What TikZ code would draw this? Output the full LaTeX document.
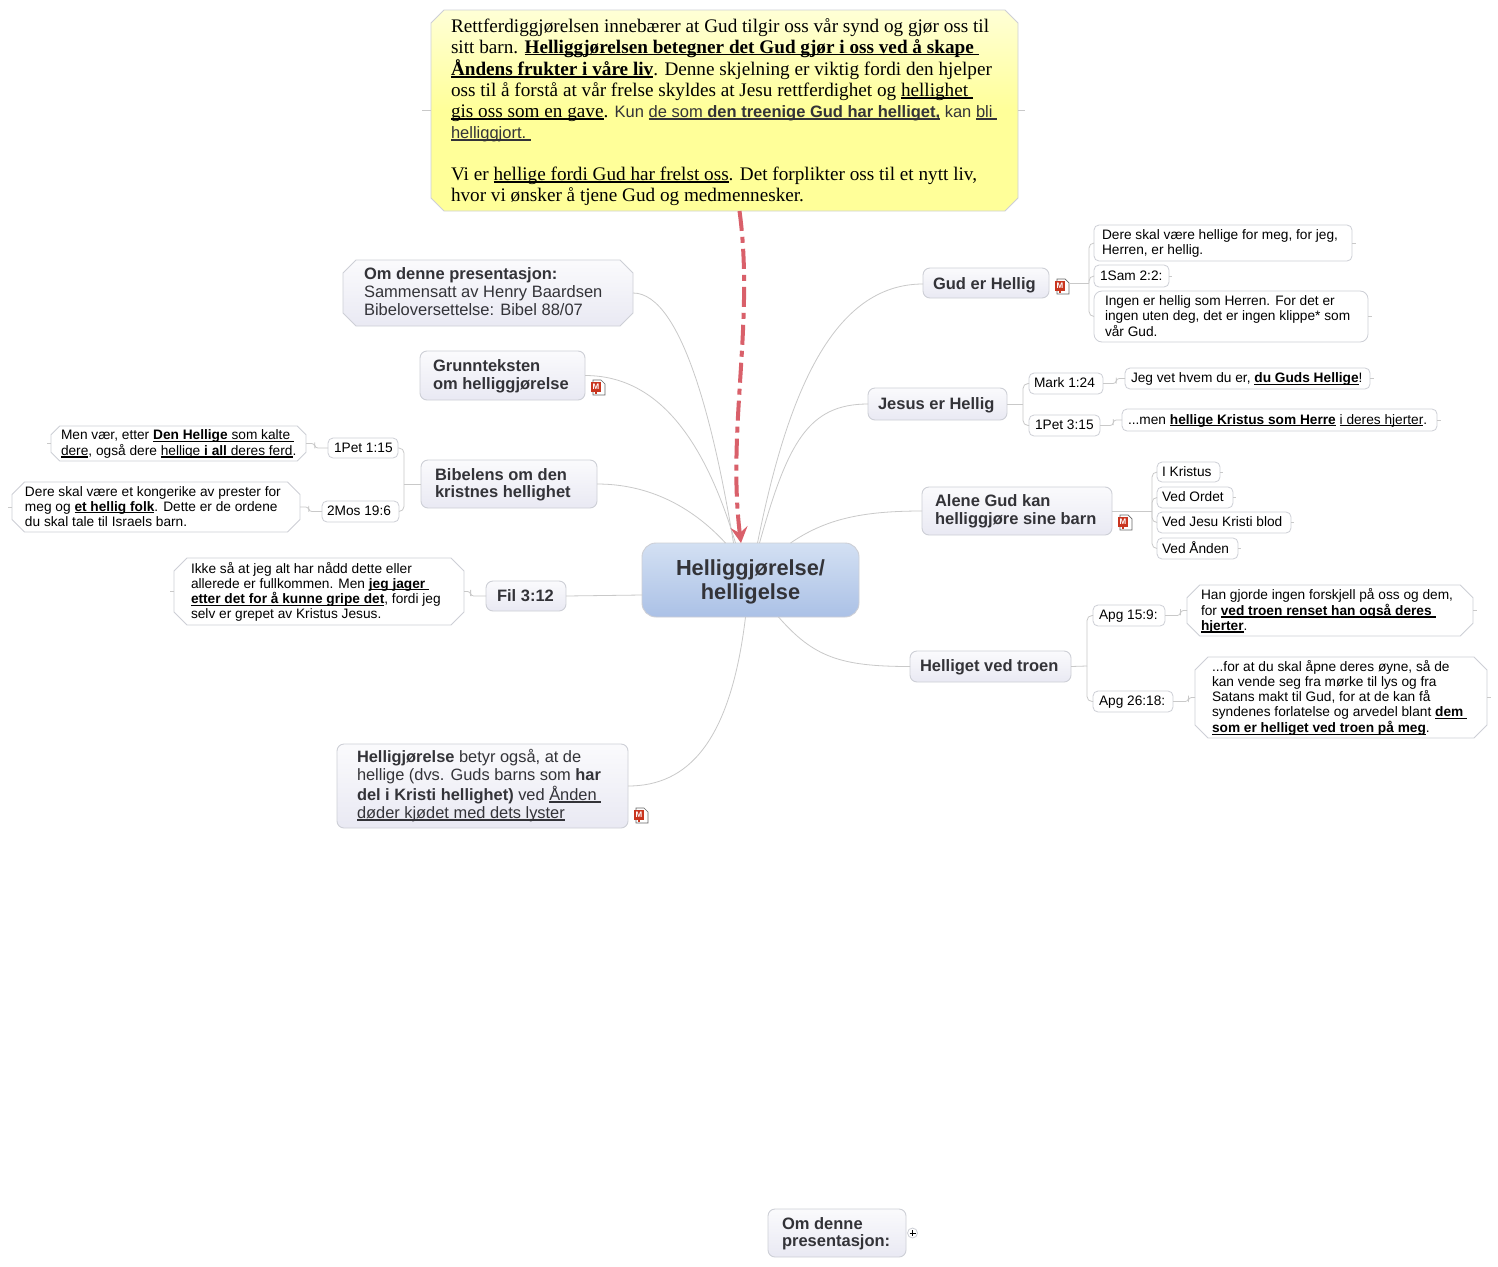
\documentclass[tikz,border=0pt]{standalone}
\usepackage{fontspec}
\setmainfont{Liberation Sans}
\newfontfamily\tms{Liberation Serif}
\usetikzlibrary{arrows.meta,calc}
\definecolor{linegray}{HTML}{C9C9C9}
\definecolor{boxline}{HTML}{CDCFD6}
\definecolor{topictext}{HTML}{333338}
\definecolor{redarrow}{HTML}{D9606A}
\definecolor{iconred}{HTML}{C9351F}
\newcommand{\ul}[1]{\setbox0\hbox{#1}\rlap{\rule[-2.2pt]{\wd0}{1.3pt}}\box0\relax}
\def\mytextpad{2.5pt}
\tikzset{
  textpad/.code={\def\mytextpad{#1}},
  base/.style={inner sep=0pt,outer sep=0pt},
  topic/.style={base,draw=boxline,line width=.9pt,rounded corners=7pt,top color=white!80!topicfill,bottom color=topicfill,font=\fontsize{16.5}{17.5}\selectfont\bfseries,text=topictext},
  subbox/.style={base,draw=boxline,line width=.8pt,rounded corners=5pt,fill=white,font=\fontsize{13.7}{15}\selectfont,text=black},
  small/.style={base,font=\fontsize{13.7}{15}\selectfont,text=black},
  mid/.style={base,font=\fontsize{16.5}{18}\selectfont,text=topictext},
  big/.style={base,textpad=4pt,font=\fontsize{19.2}{21}\selectfont\tms,text=black},
  polywhite/.style={draw=boxline,line width=.8pt,fill=white},
  polytopic/.style={draw=boxline,line width=.9pt,top color=white!80!topicfill,bottom color=topicfill},
  polyyellow/.style={draw=boxline,line width=.9pt,top color=yellowtop,bottom color=yellowbot,middle color=yellowbot},
  conn/.style={draw=linegray,line width=.8pt},
  fork/.style={conn,rounded corners=5pt},
  jog/.style={conn,rounded corners=3pt},
  rel/.style={draw=redarrow,line width=4pt,dash pattern=on 20pt off 6pt on 6pt off 6pt,-{Stealth[length=16pt,width=17pt,inset=6pt]}},
}
\definecolor{topicfill}{HTML}{E9E9F3}
\definecolor{yellowtop}{HTML}{FFFFD6}
\definecolor{yellowbot}{HTML}{FFFF99}
\definecolor{centertop}{HTML}{D3E0F3}
\definecolor{centerbot}{HTML}{ABC1E6}
\newcommand{\shiftedlines}[1]{\raisebox{0pt}[\dimexpr\height+\mytextpad\relax][\depth]{\begin{tabular}{@{}l@{}}#1\end{tabular}}}
% rounded box: [style]{name}{x0}{y0}{x1}{y1}{left pad}{lines}
\newcommand{\rb}[8][]{%
  \pgfmathsetmacro\mybw{#5-#3}\pgfmathsetmacro\mybh{#6-#4}%
  \pgfmathsetmacro\mycx{(#3+#5)/2}\pgfmathsetmacro\mycy{(#4+#6)/2}%
  \node[#1,minimum width=\mybw pt,minimum height=\mybh pt] (#2) at (\mycx,\mycy)
    {\makebox[\mybw pt][l]{\hspace*{#7pt}\shiftedlines{#8}}};}
% chamfered box: [font style]{polygon style}{name}{x0}{y0}{x1}{y1}{left pad}{lines}
\newcommand{\cb}[9][]{%
  \pgfmathsetmacro\mych{min(13,(#7-#5)/4)}%
  \path[#2] ({#4+\mych},#5) -- ({#6-\mych},#5) -- (#6,{#5+\mych}) -- (#6,{#7-\mych})
    -- ({#6-\mych},#7) -- ({#4+\mych},#7) -- (#4,{#7-\mych}) -- (#4,{#5+\mych}) -- cycle;
  \pgfmathsetmacro\mybw{#6-#4}\pgfmathsetmacro\mybh{#7-#5}%
  \pgfmathsetmacro\mycx{(#4+#6)/2}\pgfmathsetmacro\mycy{(#5+#7)/2}%
  \node[#1,minimum width=\mybw pt,minimum height=\mybh pt] (#3) at (\mycx,\mycy)
    {\makebox[\mybw pt][l]{\hspace*{#8pt}\shiftedlines{#9}}};}
% attachment icon
\newcommand{\mmicon}[3]{%
  \node[base,minimum width=15pt,minimum height=15pt] (#1) at (#2,#3) {};
  \begin{scope}[shift={(#2,#3)}]
    \draw[fill=white,draw=gray!80!black,line width=.7pt] (-5,-7) -- (3,-7) -- (7,-3) -- (7,8) -- (-5,8) -- cycle;
    \fill[iconred] (-7,-5) rectangle (3,5);
    \fill[iconred] (-3,5) rectangle (-1,7);
    \node[base,text=white,font=\fontsize{8}{8}\selectfont\bfseries] at (-2,0) {M};
  \end{scope}}
\newcommand{\stubR}[2]{\coordinate (#1end) at ([xshift=#2pt]#1.east); \draw[conn] (#1.east) -- (#1end);}
\newcommand{\stubL}[2]{\coordinate (#1end) at ([xshift=-#2pt]#1.west); \draw[conn] (#1.west) -- (#1end);}
\begin{document}
\begin{tikzpicture}[x=1pt,y=-1pt]
\path[use as bounding box,fill=white] (0,0) rectangle (1498,1266);

% central topic
\node[base,draw=boxline,line width=.9pt,rounded corners=14pt,top color=centertop,bottom color=centerbot,
  minimum width=217pt,minimum height=74pt,text=topictext,
  font=\fontsize{21.8}{24}\selectfont\bfseries] (c) at (750.5,580)
  {\raisebox{0pt}[\dimexpr\height+5pt\relax][\depth]{\begin{tabular}{@{}c@{}}Helliggjørelse/\\helligelse\end{tabular}}};

% callout
\cb[big]{polyyellow}{top}{431}{10}{1018}{211}{20}{%
Rettferdiggjørelsen innebærer at Gud tilgir oss vår synd og gjør oss til\\
sitt barn. \ul{\bfseries Helliggjørelsen betegner det Gud gjør i oss ved å skape\ }\\
\ul{\bfseries Åndens frukter i våre liv}. Denne skjelning er viktig fordi den hjelper\\
oss til å forstå at vår frelse skyldes at Jesu rettferdighet og \ul{hellighet\ }\\
\ul{gis oss som en gave}. {\rmfamily\fontsize{16.5}{21}\selectfont\color{topictext}Kun \ul{de som {\bfseries den treenige Gud har helliget,}} kan \ul{bli\ }}\\
{\rmfamily\fontsize{16.5}{21}\selectfont\color{topictext}\ul{helliggjort.\ }}\\
\\
Vi er \ul{hellige fordi Gud har frelst oss}. Det forplikter oss til et nytt liv,\\
hvor vi ønsker å tjene Gud og medmennesker.}

% left side
\cb[mid]{polytopic}{om}{343}{260}{633}{326}{21}{{\bfseries Om denne presentasjon:}\\Sammensatt av Henry Baardsen\\Bibeloversettelse: Bibel 88/07}
\rb[topic]{grunn}{420}{351}{585}{400}{13}{Grunnteksten\\om helliggjørelse}
\mmicon{icgrunn}{598}{387}
\rb[topic]{bib}{421}{460}{597}{508}{14}{Bibelens om den\\kristnes hellighet}
\rb[subbox]{pet}{328}{438}{398}{458}{6}{1Pet 1:15}
\rb[subbox]{mos}{322}{501}{399}{522}{5}{2Mos 19:6}
\cb[small]{polywhite}{men}{51}{426}{306}{461}{10}{Men vær, etter \ul{{\bfseries Den Hellige} som kalte\ }\\\ul{dere}, også dere \ul{hellige {\bfseries i all} deres ferd}.}
\cb[small]{polywhite}{dere}{12}{482}{300}{532}{13}{Dere skal være et kongerike av prester for\\meg og \ul{\bfseries et hellig folk}. Dette er de ordene\\du skal tale til Israels barn.}
\rb[topic,textpad=4.5pt]{fil}{486}{581}{566}{611}{11}{Fil 3:12}
\cb[small]{polywhite}{ikke}{174}{558}{464}{625}{17}{Ikke så at jeg alt har nådd dette eller\\allerede er fullkommen. Men \ul{\bfseries jeg jager\ }\\\ul{\bfseries etter det for å kunne gripe det}, fordi jeg\\selv er grepet av Kristus Jesus.}
\rb[topic,font=\fontsize{16.4}{18}\selectfont\mdseries,textpad=1.5pt]{helj}{337}{744}{628}{828}{20}{{\bfseries Helligjørelse} betyr også, at de\\hellige (dvs. Guds barns som {\bfseries har}\\{\bfseries del i Kristi hellighet)} ved \ul{Ånden\ }\\\ul{døder kjødet med dets lyster}}
\mmicon{ichelj}{641}{815}
\rb[topic]{bottom}{768}{1209}{906}{1257}{14}{Om denne\\presentasjon:}
\node[base,circle,draw=boxline,line width=.8pt,fill=white,minimum size=10pt] (plus) at (912.5,1233) {};
\draw[black,line width=.9pt] ([xshift=-3pt]plus.center) -- ([xshift=3pt]plus.center) ([yshift=-3pt]plus.center) -- ([yshift=3pt]plus.center);

% right side
\rb[topic,textpad=5.5pt]{gud}{923}{268}{1049}{298}{10}{Gud er Hellig}
\mmicon{icgud}{1062}{286}
\rb[subbox]{gud1}{1094}{225}{1352}{261}{8}{Dere skal være hellige for meg, for jeg,\\Herren, er hellig.}
\rb[subbox]{gud2}{1094}{265}{1169}{287}{6}{1Sam 2:2:}
\rb[subbox,rounded corners=8pt]{gud3}{1094}{291}{1368}{342}{11}{Ingen er hellig som Herren. For det er\\ingen uten deg, det er ingen klippe* som\\vår Gud.}
\rb[topic,textpad=4.5pt]{jes}{868}{388}{1007}{420}{10}{Jesus er Hellig}
\rb[subbox]{mark}{1029}{373}{1103}{394}{5}{Mark 1:24}
\rb[subbox]{pet2}{1029}{415}{1100}{436}{6}{1Pet 3:15}
\rb[subbox]{jeg}{1125}{368}{1370}{389}{6}{Jeg vet hvem du er, \ul{\bfseries du Guds Hellige}!}
\rb[subbox]{menh}{1122}{409}{1437}{431}{6}{...men \ul{\bfseries hellige Kristus som Herre} \ul{i deres hjerter}.}
\rb[topic,textpad=1.5pt]{alene}{922}{487}{1112}{535}{13}{Alene Gud kan\\helliggjøre sine barn}
\mmicon{icalene}{1125}{522}
\rb[subbox]{a1}{1157}{462}{1220}{482}{5}{I Kristus}
\rb[subbox]{a2}{1157}{487}{1233}{508}{5}{Ved Ordet}
\rb[subbox]{a3}{1157}{512}{1291}{533}{5}{Ved Jesu Kristi blod}
\rb[subbox]{a4}{1157}{538}{1238}{559}{5}{Ved Ånden}
\rb[topic]{tro}{910}{651}{1071}{682}{10}{Helliget ved troen}
\rb[subbox]{apg1}{1093}{605}{1165}{626}{6}{Apg 15:9:}
\rb[subbox]{apg2}{1093}{691}{1173}{712}{6}{Apg 26:18:}
\cb[small]{polywhite}{han}{1187}{585}{1473}{636}{14}{Han gjorde ingen forskjell på oss og dem,\\for \ul{\bfseries ved troen renset han også deres\ }\\\ul{\bfseries hjerter}.}
\cb[small]{polywhite}{forat}{1195}{657}{1487}{738}{17}{...for at du skal åpne deres øyne, så de\\kan vende seg fra mørke til lys og fra\\Satans makt til Gud, for at de kan få\\syndenes forlatelse og arvedel blant \ul{\bfseries dem\ }\\\ul{\bfseries som er helliget ved troen på meg}.}

% connectors from the centre
\draw[conn] ([xshift=7pt]c.north) .. controls +(30,-150) and +(-90,0) .. ([yshift=-1pt]gud.west);
\draw[conn] ([xshift=9pt]c.north) .. controls +(28,-100) and +(-60,0) .. (jes.west);
\draw[conn] ([xshift=40pt]c.north) .. controls +(35,-24) and +(-60,0) .. (alene.west);
\draw[conn] ([xshift=28pt]c.south) .. controls +(35,40) and +(-70,0) .. (tro.west);
\draw[conn] ([xshift=-5pt]c.south) .. controls +(-15,125) and +(60,0) .. (helj.east);
\draw[conn] (c.west |- fil.east) ++(0,-1) -- (fil.east);
\draw[conn] ([xshift=-25pt]c.north) .. controls +(-35,-38) and +(50,0) .. (bib.east);
\draw[conn] ([xshift=-15pt]c.north) .. controls +(-30,-100) and +(75,0) .. (grunn.east);
\draw[conn] ([xshift=-17pt]c.north) .. controls +(-18,-110) and +(50,0) .. (om.east);
\draw[rel] ([xshift=15pt]top.south) .. controls +(15,110) and +(-14,-113) .. ([xshift=-9.5pt]c.north);

% side branches
\coordinate (fgud) at (1089,283);
\draw[conn] (icgud.east |- fgud) -- (fgud);
\draw[fork] (fgud) |- (gud1.west);
\draw[fork] (fgud) |- (gud2.west);
\draw[fork] (fgud) |- (gud3.west);

\coordinate (fjes) at (1023,404);
\draw[conn] (jes.east) -- (fjes);
\draw[fork] (fjes) |- (mark.west);
\draw[fork] (fjes) |- (pet2.west);
\draw[jog] (mark.east) -| ($(mark.east)!.6!(jeg.west)$) |- (jeg.west);
\draw[jog] (pet2.east) -| ($(pet2.east)!.6!(menh.west)$) |- (menh.west);

\coordinate (fal) at (1152,511);
\draw[conn] (alene.east) -- (fal);
\draw[fork] (fal) |- (a1.west);
\draw[fork] (fal) |- (a2.west);
\draw[fork] (fal) |- (a3.west);
\draw[fork] (fal) |- (a4.west);

\coordinate (ftro) at (1087,666);
\draw[conn] (tro.east) -- (ftro);
\draw[fork] (ftro) |- (apg1.west);
\draw[fork] (ftro) |- (apg2.west);
\draw[jog] (apg1.east) -| ($(apg1.east)!.7!(han.west)$) |- (han.west);
\draw[jog] (apg2.east) -| ($(apg2.east)!.7!(forat.west)$) |- (forat.west);

\coordinate (fbib) at (404,484);
\draw[conn] (bib.west) -- (fbib);
\draw[fork] (fbib) |- (pet.east);
\draw[fork] (fbib) |- (mos.east);
\draw[jog] (pet.west) -| ($(pet.west)!.6!(men.east)$) |- (men.east);
\draw[jog] (mos.west) -| ($(mos.west)!.6!(dere.east)$) |- (dere.east);
\draw[jog] (fil.west) -| ($(fil.west)!.7!(ikke.east)$) |- (ikke.east);

% free stubs
\stubR{top}{7}\stubL{top}{9}
\stubR{gud1}{4}\stubR{gud2}{3}\stubR{gud3}{4}\stubR{jeg}{4}\stubR{menh}{4}
\stubR{a1}{3}\stubR{a2}{3}\stubR{a3}{3}\stubR{a4}{3}
\stubR{han}{4}\stubR{forat}{4}
\stubL{men}{4}\stubL{dere}{4}\stubL{ikke}{4}
\end{tikzpicture}
\end{document}
